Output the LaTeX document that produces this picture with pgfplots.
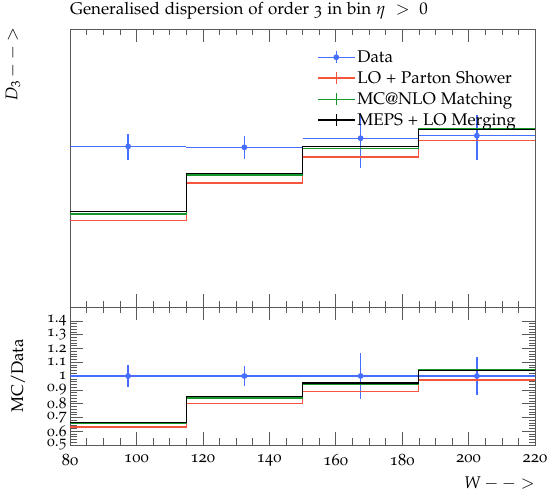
\documentclass[border=0pt]{standalone}
\usepackage[T1]{fontenc}
\usepackage[osf]{mathpazo}
\usepackage{pgfplots}
\pgfplotsset{compat=1.18}
\definecolor{cdata}{RGB}{70,110,255}
\definecolor{clo}{RGB}{245,85,60}
\definecolor{cnlo}{RGB}{20,150,40}
\definecolor{cmeps}{RGB}{0,0,0}
\pgfplotsset{
  riv/.style={
    scale only axis, width=465bp,
    xmin=80, xmax=220,
    xtick={80,100,...,220}, minor x tick num=3,
    major tick length=13bp, minor tick length=6.5bp,
    every tick/.style={gray!70!black, line width=0.5bp},
    axis line style={gray!70!black, line width=0.8bp},
    xticklabel style={font=\fontsize{16.5}{17}\selectfont, yshift=-6bp},
    yticklabel style={font=\fontsize{15.5}{16}\selectfont},
    /pgf/number format/assume math mode=true,
  },
  mcstyle/.style={const plot, no marks, line width=1.3bp},
  mcleg/.style={legend image code/.code={%
    \draw[#1, line width=1.3bp] (0bp,0bp) -- (37bp,0bp);
    \draw[#1, line width=1.0bp] (18.5bp,-6bp) -- (18.5bp,6bp);}},
}
\begin{document}
\begin{tikzpicture}
\begin{axis}[riv, name=top, height=278bp,
  ymode=log, ymin=1.25, ymax=7.14,
  ytick=\empty, minor ytick={2,3,4,5,6,7},
  xticklabels={},
  title={Generalised dispersion of order 3 in bin $\eta\ >\ 0$},
  title style={at={(rel axis cs:0,1)}, anchor=base west, inner sep=0pt, yshift=8.5bp, font=\fontsize{17}{19}\selectfont},
  legend style={draw=none, fill=none, at={(rel axis cs:0.531,0.93)}, anchor=north west,
    font=\fontsize{17}{19}\selectfont, row sep=3.4bp, inner sep=0pt,
    /tikz/every even column/.append style={column sep=10bp}},
  legend cell align=left,
]
\addplot[cdata, only marks, line width=1.3bp, mark=*, mark size=2.2bp,
  legend image code/.code={%
    \draw[cdata, line width=1.3bp] (0bp,0bp) -- (37bp,0bp);
    \draw[cdata, line width=1.0bp] (18.5bp,-6bp) -- (18.5bp,6bp);
    \fill[cdata] (18.5bp,0bp) circle (2.2bp);},
  error bars/.cd, x dir=both, x explicit, y dir=both, y explicit,
  error bar style={line width=1.3bp}, error mark=none]
  coordinates {
  (97.5,3.42) +- (17.5,0.27)
  (132.5,3.40) +- (17.5,0.24)
  (167.5,3.60) +- (17.5,0.61)
  (202.5,3.66) +- (17.5,0.51)
  };
\addlegendentry{Data}
\addplot[clo, mcstyle, mcleg=clo] coordinates {(80,2.15) (115,2.72) (150,3.20) (185,3.55) (220,3.55)};
\addlegendentry{LO + Parton Shower}
\addplot[cnlo, mcstyle, mcleg=cnlo] coordinates {(80,2.24) (115,2.86) (150,3.38) (185,3.83) (220,3.83)};
\addlegendentry{MC@NLO Matching}
\addplot[cmeps, mcstyle, mcleg=cmeps] coordinates {(80,2.27) (115,2.89) (150,3.42) (185,3.80) (220,3.80)};
\addlegendentry{MEPS + LO Merging}
\end{axis}
\begin{axis}[riv, name=ratio, at={(top.south west)}, anchor=north west, height=138bp,
  ymin=0.5, ymax=1.5,
  ytick={0.5,0.6,0.7,0.8,0.9,1,1.1,1.2,1.3,1.4}, minor y tick num=4,
  xlabel={$W - - >$},
  xlabel style={at={(rel axis cs:1,0)}, anchor=base east, inner sep=0pt, yshift=-43bp, font=\fontsize{17}{19}\selectfont},
]
\addplot[cdata, only marks, line width=1.3bp, mark=*, mark size=2.2bp,
  error bars/.cd, x dir=both, x explicit, y dir=both, y explicit,
  error bar style={line width=1.3bp}, error mark=none]
  coordinates {
  (97.5,1) +- (17.5,0.08)
  (132.5,1) +- (17.5,0.07)
  (167.5,1) +- (17.5,0.17)
  (202.5,1) +- (17.5,0.14)
  };
\addplot[clo, mcstyle] coordinates {(80,0.63) (115,0.80) (150,0.89) (185,0.97) (220,0.97)};
\addplot[cnlo, mcstyle] coordinates {(80,0.655) (115,0.84) (150,0.94) (185,1.045) (220,1.045)};
\addplot[cmeps, mcstyle] coordinates {(80,0.665) (115,0.85) (150,0.95) (185,1.04) (220,1.04)};
\end{axis}
\node[rotate=90, anchor=east, inner sep=0pt, font=\fontsize{17}{19}\selectfont] at ([shift={(-57bp,2bp)}]top.north west) {$D_3 - - >$};
\node[rotate=90, inner sep=0pt, font=\fontsize{17}{19}\selectfont] at ([shift={(-52bp,0bp)}]ratio.west) {MC/Data};
\path[use as bounding box] ([shift={(-70bp,29bp)}]top.north west) rectangle ([shift={(482bp,-468bp)}]top.north west);
\end{tikzpicture}
\end{document}
